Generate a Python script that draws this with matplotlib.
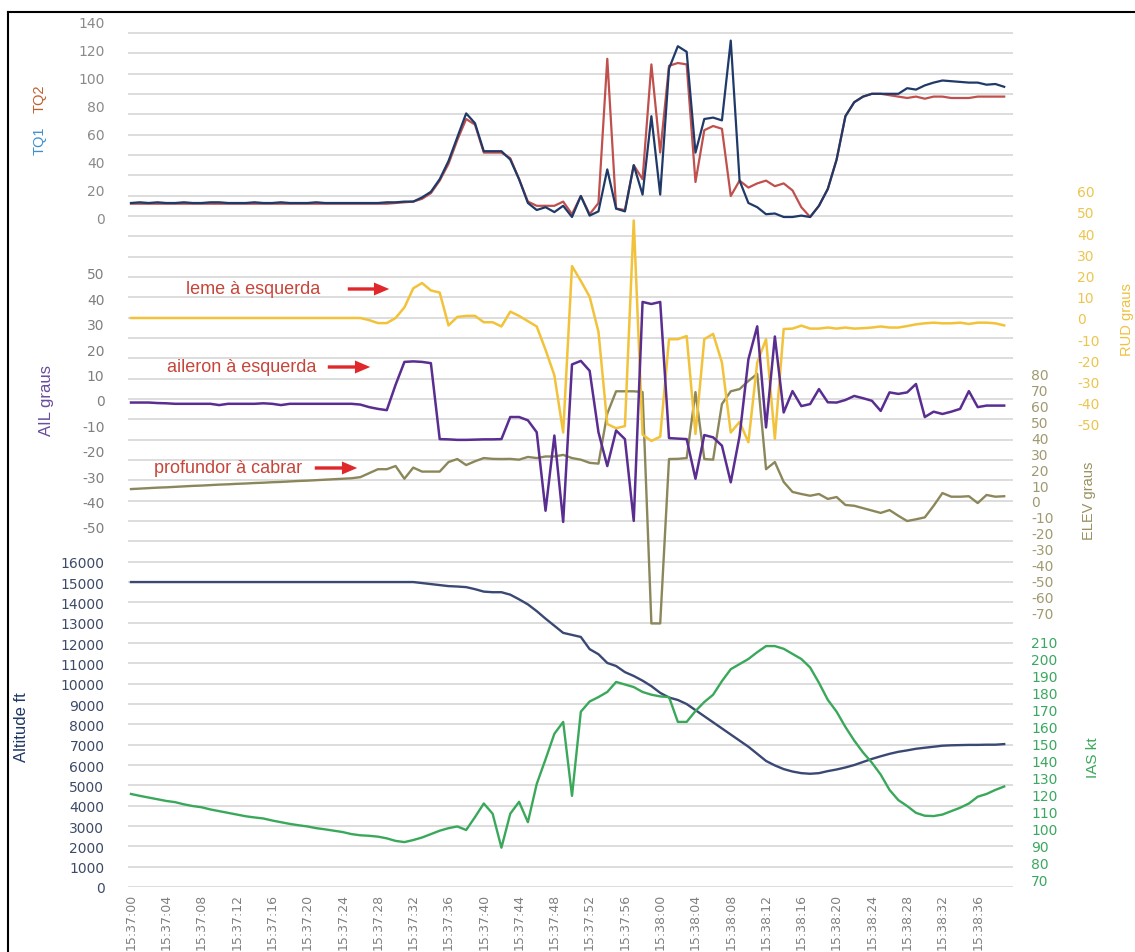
import numpy as np
import matplotlib
matplotlib.use("Agg")
import matplotlib.pyplot as plt
from matplotlib.patches import FancyArrowPatch
from matplotlib.lines import Line2D

plt.rcParams['axes.unicode_minus'] = False

# ---------------- data (one sample per second, 15:37:00 .. 15:38:39) ----------------
time_labels = ['15:37:00', '15:37:04', '15:37:08', '15:37:12', '15:37:16', '15:37:20',
               '15:37:24', '15:37:28', '15:37:32', '15:37:36', '15:37:40', '15:37:44',
               '15:37:48', '15:37:52', '15:37:56', '15:38:00', '15:38:04', '15:38:08',
               '15:38:12', '15:38:16', '15:38:20', '15:38:24', '15:38:28', '15:38:32',
               '15:38:36']

tq1 = [10, 10.5, 10, 10.5, 10, 10, 10.5, 10, 10, 10.5,
       10.5, 10, 10, 10, 10.5, 10, 10, 10.5, 10, 10,
       10, 10.5, 10, 10, 10, 10, 10, 10, 10, 10.5,
       10.5, 11, 11, 14, 18, 27, 40, 57, 74, 67,
       47, 47, 47, 41, 27, 10, 5, 7, 3.5, 8,
       0, 15, 1, 4, 34, 6, 4, 37, 16, 72,
       16, 106, 122, 118, 46, 70, 71, 69, 126, 26,
       10, 7, 2, 2.5, 0, 0, 1, 0, 8, 20,
       41, 72, 82, 86, 88, 88, 88, 88, 92, 91,
       94, 96, 97.5, 97, 96.5, 96, 96, 94.5, 95, 93]

tq2 = [9.5, 9.5, 9.5, 9.5, 9.5, 9.5, 9.5, 9.5, 9.5, 9.5,
       9.5, 9.5, 9.5, 9.5, 9.5, 9.5, 9.5, 9.5, 9.5, 9.5,
       9.5, 9.5, 9.5, 9.5, 9.5, 9.5, 9.5, 9.5, 9.5, 9.5,
       10, 10.5, 11, 13, 17, 26, 38, 55, 70, 66,
       46, 46, 46, 42, 27, 11, 8, 8, 8, 11,
       2, 15, 2, 10, 113, 6, 5, 37, 27, 109,
       46, 108, 110, 109, 25, 62, 65, 63, 15, 26,
       21, 24, 26, 22, 24, 19, 7, 0, 8, 20,
       41, 72, 82, 86, 88, 88, 87, 86, 85, 86,
       84.5, 86, 86, 85, 85, 85, 86, 86, 86, 86]

ail = [-1, -1, -1, -1.2, -1.3, -1.5, -1.5, -1.5, -1.5, -1.5,
       -2, -1.5, -1.5, -1.5, -1.5, -1.3, -1.5, -2, -1.5, -1.5,
       -1.5, -1.5, -1.5, -1.5, -1.5, -1.5, -1.8, -2.8, -3.5, -4,
       6, 15, 15.2, 15, 14.5, -15.4, -15.5, -15.7, -15.7, -15.6,
       -15.5, -15.5, -15.4, -6.7, -6.7, -8, -12.7, -43.6, -14, -48,
       14, 15.4, 11.5, -12.7, -26, -12, -15.4, -47.6, 38.6, 37.8,
       38.6, -15, -15.2, -15.4, -31, -13.8, -14.7, -18, -32.4, -14.2,
       16, 29, -10.8, 25, -4.9, 3.5, -2.4, -1.6, 4.3, -0.9,
       -1, 0, 1.6, 0.7, -0.3, -4.3, 3, 2.4, 3, 6.3,
       -6.7, -4.6, -5.5, -4.6, -3.5, 3.5, -2.8, -2.2, -2.2, -2.2]

rud = [0, 0, 0, 0, 0, 0, 0, 0, 0, 0,
       0, 0, 0, 0, 0, 0, 0, 0, 0, 0,
       0, 0, 0, 0, 0, 0, 0, -1, -2.4, -2.4,
       0, 5, 14, 16.5, 13, 12, -3.5, 0.5, 1, 1,
       -2, -2, -4, 3, 1, -1.5, -4, -15, -27, -54,
       24.5, 17.5, 10, -6.5, -50, -52, -51, 46, -55, -58,
       -56, -10, -10, -8.5, -54.7, -10, -7.5, -21, -54, -49,
       -58.6, -21, -10, -57, -5.2, -5, -3.6, -5, -5, -4.5,
       -5, -4.5, -5, -4.8, -4.5, -4, -4.5, -4.5, -3.8, -3,
       -2.5, -2.2, -2.5, -2.5, -2.2, -2.8, -2.2, -2.2, -2.5, -3.5]

elev = [7.5, 7.8, 8.1, 8.4, 8.6, 8.9, 9.2, 9.5, 9.7, 10,
        10.3, 10.5, 10.8, 11, 11.3, 11.5, 11.8, 12, 12.3, 12.6,
        12.8, 13.1, 13.4, 13.7, 14, 14.3, 15, 17.5, 20, 20,
        22, 14, 21, 18.5, 18.5, 18.5, 24.5, 26.4, 22.6, 25,
        27, 26.5, 26.4, 26.5, 26, 27.7, 27, 28, 28, 29,
        27, 26, 24, 23.5, 55, 69, 69, 69, 68.5, -77,
        -77, 26.4, 26.5, 27, 68.5, 26.4, 26, 61, 69, 70.4,
        75.5, 80, 20, 24.5, 12, 5.7, 4.4, 3.3, 4.4, 1.3,
        2.5, -2.5, -3, -4.5, -6, -7.5, -5.7, -9.3, -12.6, -11.5,
        -10.3, -3, 5, 2.7, 2.7, 3, -1.3, 3.8, 2.7, 3]

altitude = [15000, 15000, 15000, 15000, 15000, 15000, 15000, 15000, 15000, 15000,
            15000, 15000, 15000, 15000, 15000, 15000, 15000, 15000, 15000, 15000,
            15000, 15000, 15000, 15000, 15000, 15000, 15000, 15000, 15000, 15000,
            15000, 15000, 15000, 14950, 14900, 14850, 14800, 14780, 14750, 14650,
            14530, 14500, 14500, 14380, 14150, 13900, 13570, 13200, 12850, 12500,
            12400, 12300, 11700, 11450, 11020, 10870, 10570, 10380, 10150, 9880,
            9550, 9320, 9200, 9000, 8700, 8400, 8100, 7800, 7500, 7200,
            6900, 6550, 6200, 5980, 5800, 5680, 5600, 5570, 5600, 5700,
            5780, 5880, 6000, 6150, 6300, 6430, 6550, 6650, 6720, 6800,
            6850, 6900, 6950, 6970, 6980, 6990, 6990, 7000, 7000, 7030]

ias = [120.6, 119.5, 118.5, 117.5, 116.5, 115.8, 114.5, 113.5, 112.8, 111.5,
       110.5, 109.5, 108.5, 107.5, 106.8, 106.2, 105, 104, 103, 102.2,
       101.5, 100.5, 99.8, 99, 98.2, 97, 96.3, 96, 95.5, 94.5,
       93, 92.3, 93.5, 95, 97, 99, 100.5, 101.5, 99.4, 107,
       115, 109, 89, 109, 116, 104, 126.5, 141, 156, 163,
       119.5, 169, 175, 177.6, 180.6, 186.5, 185, 183.5, 180.6, 179,
       178, 177.6, 163, 163, 169.4, 174.7, 179, 187, 194, 197,
       200, 204, 207.6, 207.6, 206, 203, 200, 195, 186, 176,
       169, 160, 152, 145, 139, 132, 123, 117, 113.5, 109.5,
       107.8, 107.6, 108.5, 110.5, 112.5, 115, 119, 120.6, 123, 125]

tq_ticks = [0, 20, 40, 60, 80, 100, 120, 140]
ail_ticks = [-50, -40, -30, -20, -10, 0, 10, 20, 30, 40, 50]
rud_ticks = [-50, -40, -30, -20, -10, 0, 10, 20, 30, 40, 50, 60]
elev_ticks = [-70, -60, -50, -40, -30, -20, -10, 0, 10, 20, 30, 40, 50, 60, 70, 80]
ias_ticks = [70, 80, 90, 100, 110, 120, 130, 140, 150, 160, 170, 180, 190, 200, 210]
alt_ticks = list(range(0, 17000, 1000))

# ---------------- styling ----------------
C_TQ1 = '#1f3a68'
C_TQ2 = '#c0504d'
C_AIL = '#5a2d91'
C_RUD = '#f2c33a'
C_ELEV = '#8c875a'
C_ALT = '#3a4874'
C_IAS = '#3aa85a'
GRID = '#dadada'
NARROW = ['DejaVu Sans Condensed', 'Liberation Sans Narrow', 'Liberation Sans', 'DejaVu Sans']

W, H = 1135, 953
fig = plt.figure(figsize=(W / 100, H / 100), dpi=100)
fig.patch.set_facecolor('white')

L, R, T, B = 128, 1013, 14, 888          # plot area in pixels
ax = fig.add_axes([L / W, 1 - B / H, (R - L) / W, (B - T) / H])

n = len(tq1)
x = np.arange(n)
PX_PER_S = 8.82
X0_PX = 131
xlo = (L - X0_PX) / PX_PER_S
xhi = xlo + (R - L) / PX_PER_S
ax.set_xlim(xlo, xhi)


def lims(v_ref, y_ref, px_per_unit):
    lo = v_ref - (B - y_ref) / px_per_unit
    hi = v_ref + (y_ref - T) / px_per_unit
    return lo, hi


def style(a, side, ticks, color, pad):
    for s in a.spines.values():
        s.set_visible(False)
    a.set_yticks(ticks)
    a.set_yticklabels([str(t) for t in ticks])
    if side == 'left':
        a.yaxis.tick_left()
    else:
        a.yaxis.tick_right()
    a.tick_params(axis='y', length=0, labelcolor=color, labelsize=10, pad=pad)


# main axis: altitude (also carries the gridlines)
ax.set_ylim(0, (B - T) / 20.33 * 1000)
style(ax, 'left', alt_ticks, '#3d4a68', 17)
ax.set_yticks(list(range(17000, 43000, 1000)), minor=True)
ax.tick_params(axis='y', which='minor', length=0)
ax.grid(True, axis='y', which='both', color=GRID, lw=1.3)
ax.set_axisbelow(True)
ax.set_xticks(list(range(0, 97, 4)))
ax.set_xticklabels(time_labels, rotation=90, fontsize=9, color='#7f7f7f')
ax.tick_params(axis='x', length=0, pad=4.5)
ax.plot(x, altitude, color=C_ALT, lw=1.7, zorder=3)

# IAS (right)
a_ias = ax.twinx()
a_ias.set_ylim(*lims(70, 881, 1.7))
style(a_ias, 'right', ias_ticks, '#3aa860', 13)
a_ias.plot(x, ias, color=C_IAS, lw=1.7)

# ELEV (right)
a_elev = ax.twinx()
a_elev.set_ylim(*lims(0, 502, 1.59))
style(a_elev, 'right', elev_ticks, '#a09a70', 13)
a_elev.plot(x, elev, color=C_ELEV, lw=1.7)

# RUD (right, outer)
a_rud = ax.twinx()
a_rud.set_ylim(*lims(0, 319, 2.12))
style(a_rud, 'right', rud_ticks, '#ecc54e', 46)
a_rud.plot(x, rud, color=C_RUD, lw=1.8)

# AIL (left)
a_ail = ax.twinx()
a_ail.set_ylim(*lims(0, 401, 2.54))
style(a_ail, 'left', ail_ticks, '#7f7f7f', 17)
a_ail.plot(x, ail, color=C_AIL, lw=1.8)

# TQ (left)
a_tq = ax.twinx()
a_tq.set_ylim(*lims(0, 218, 1.4))
style(a_tq, 'left', tq_ticks, '#8a8a8a', 17)
a_tq.plot(x, tq2, color=C_TQ2, lw=1.6)
a_tq.plot(x, tq1, color=C_TQ1, lw=1.6)

for a in (a_ias, a_elev, a_rud, a_ail, a_tq):
    a.set_xlim(xlo, xhi)


# ---------------- axis titles ----------------
def fx(px):
    return px / W


def fy(py):
    return 1 - py / H


fig.text(fx(40), fy(99), 'TQ2', rotation=90, ha='center', va='center',
         color='#c06030', fontsize=10.5, family=NARROW)
fig.text(fx(40), fy(141), 'TQ1', rotation=90, ha='center', va='center',
         color='#3f8fcc', fontsize=10.5, family=NARROW)
fig.text(fx(46), fy(400), 'AIL graus', rotation=90, ha='center', va='center',
         color='#6a4c9c', fontsize=12, family=NARROW)
fig.text(fx(22), fy(727), 'Altitude ft', rotation=90, ha='center', va='center',
         color='#1f3864', fontsize=12, family=NARROW)
fig.text(fx(1089), fy(501), 'ELEV graus', rotation=90, ha='center', va='center',
         color='#9a9060', fontsize=10.5, family=NARROW)
fig.text(fx(1093), fy(758), 'IAS kt', rotation=90, ha='center', va='center',
         color='#3aa85a', fontsize=11, family=NARROW)
fig.text(fx(1127), fy(320), 'RUD graus', rotation=90, ha='center', va='center',
         color='#f0c040', fontsize=10.5, family=NARROW)

# ---------------- annotations ----------------
notes = [('leme à esquerda', 253, 290, 345, 392),
         ('aileron à esquerda', 242, 368, 325, 373),
         ('profundor à cabrar', 228, 469, 312, 360)]
for txt, tx, ty, a0, a1 in notes:
    fig.text(fx(tx), fy(ty), txt, ha='center', va='center', color='#c8453a',
             fontsize=13, family=['Liberation Sans', 'DejaVu Sans'])
    arr = FancyArrowPatch((fx(a0), fy(ty)), (fx(a1), fy(ty)), transform=fig.transFigure,
                          arrowstyle='simple,head_length=1.0,head_width=0.85,tail_width=0.22',
                          mutation_scale=11, color='#e0282a', lw=0)
    fig.add_artist(arr)

# ---------------- frame ----------------
fig.add_artist(Line2D([fx(8), fx(8)], [fy(13), 0], transform=fig.transFigure,
                      color='black', lw=1.5))
fig.add_artist(Line2D([fx(8), 1], [fy(13), fy(13)], transform=fig.transFigure,
                      color='black', lw=1.5))

fig.savefig('out.png', dpi=100, facecolor='white')
